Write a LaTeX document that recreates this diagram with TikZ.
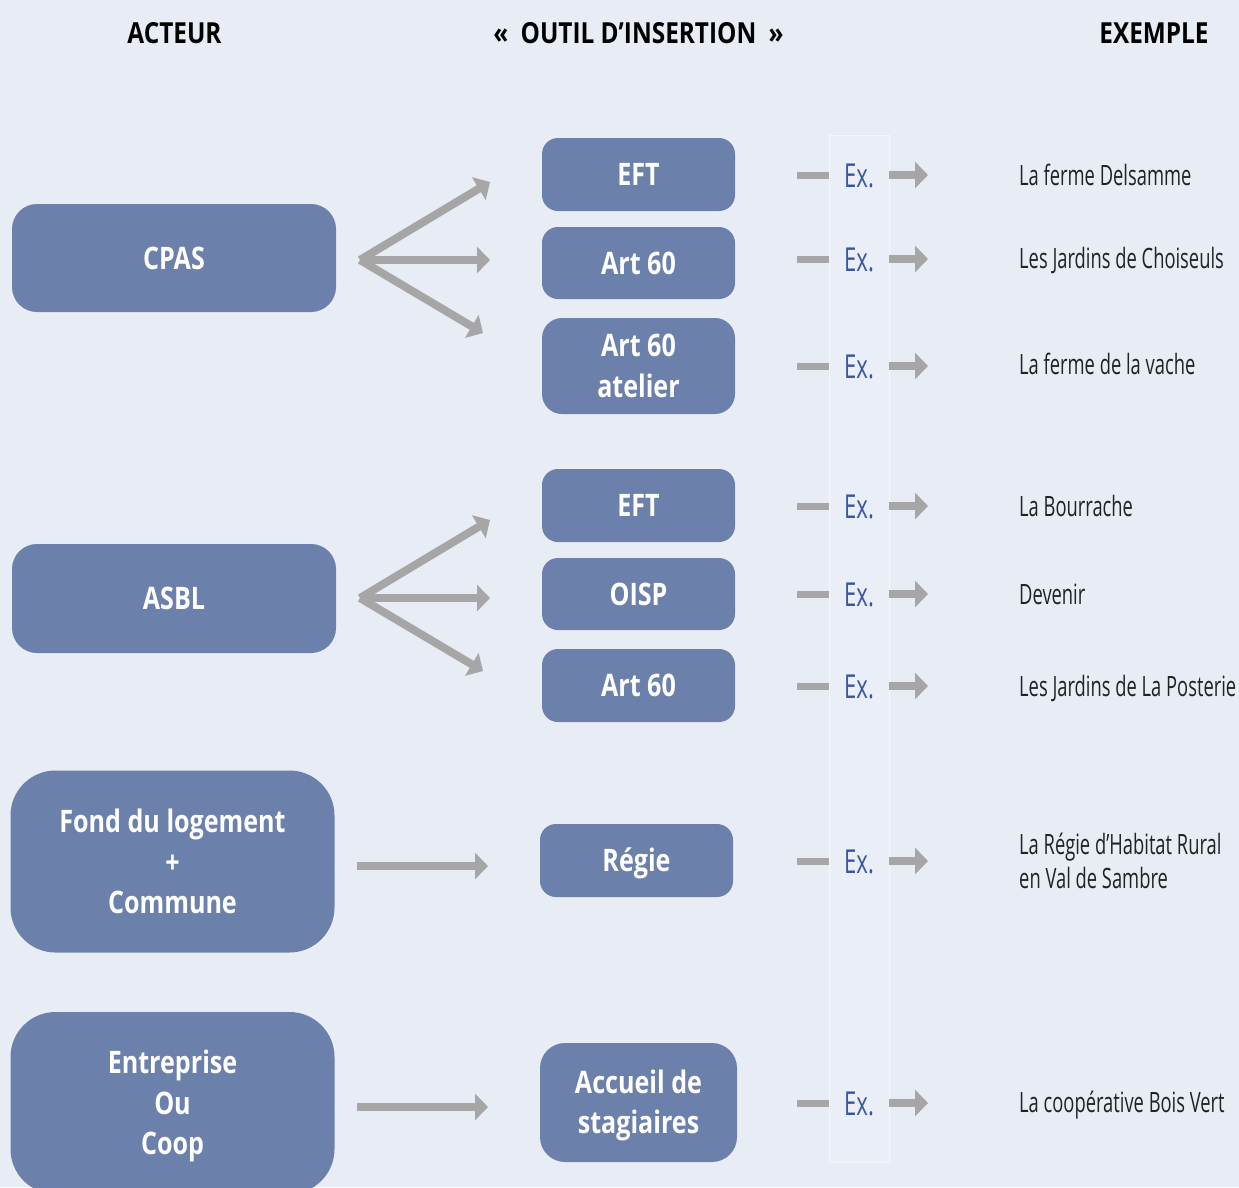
\documentclass[tikz,border=0pt]{standalone}
\usepackage{fontspec}
\setmainfont{Open Sans}[FakeStretch=0.81]
\newfontfamily\headfont{Open Sans}[FakeStretch=0.84]
\newfontfamily\exfont{Open Sans}[FakeStretch=0.67]
\newfontfamily\examplefont{Open Sans}[FakeStretch=0.655]
\usetikzlibrary{arrows.meta}
\definecolor{bg}{HTML}{E8ECF5}
\definecolor{boxc}{HTML}{6B80AB}
\definecolor{arr}{HTML}{A6A6A6}
\definecolor{exblue}{HTML}{3A56A3}
\definecolor{txt}{HTML}{222222}
\definecolor{colfill}{HTML}{EAEEF6}
\definecolor{colline}{HTML}{F4F6FB}
\newcommand\tstrut{\rule{0pt}{29.5pt}}
\begin{document}
\begin{tikzpicture}[x=1pt,y=-1pt,
 boxbase/.style={fill=boxc, draw=none, text=white, font=\bfseries\fontsize{31}{40.5}\selectfont, inner sep=0pt},
 sbox/.style={boxbase, text height=22pt, text depth=0pt},
 mbox/.style={boxbase, align=center},
 header/.style={font=\headfont\bfseries\fontsize{29}{34}\selectfont, text=black, anchor=base, inner sep=0pt},
 exlabel/.style={font=\exfont\fontsize{33}{36}\selectfont, text=exblue, anchor=base, inner sep=0pt},
 example/.style={font=\examplefont\fontsize{28}{34}\selectfont, text=txt, anchor=base west, inner sep=0pt},
 fan/.style={draw=arr, line width=8pt, -{Triangle[length=13pt,width=26pt]}},
 dashline/.style={draw=arr, line width=7pt},
 colbox/.style={fill=colfill, draw=colline, line width=1pt, inner sep=0pt}
 ]
\useasboundingbox (0,0) rectangle (1239,1187);
\fill[bg] (0,0) rectangle (1239,1187);

% headers
\node[header] (h1) at (174.5,43.5) {ACTEUR};
\node[header] (h2) at (638.5,43.5) {«\hspace{6pt} OUTIL D’INSERTION \hspace{6pt}»};
\node[header] (h3) at (1154,43.5) {EXEMPLE};

% column of Ex.
\node[colbox, minimum width=60pt, minimum height=1027pt] (col) at (859,648.5) {};

% actors
\node[sbox, minimum width=324pt, minimum height=108pt, rounded corners=25pt] (cpas) at (174,258) {CPAS};
\node[sbox, minimum width=324pt, minimum height=109pt, rounded corners=25pt] (asbl) at (174,598.5) {ASBL};
\node[mbox, minimum width=324pt, minimum height=182pt, rounded corners=45pt] (fond) at (172.5,861.5) {Fond du logement\\+\\Commune};
\node[mbox, minimum width=324pt, minimum height=182pt, rounded corners=45pt] (entr) at (172.5,1103) {\tstrut Entreprise\\Ou\\Coop};

% tools
\node[sbox, minimum width=193pt, minimum height=73pt, rounded corners=16pt] (eft1) at (638.5,174.5) {EFT};
\node[sbox, minimum width=193pt, minimum height=72pt, rounded corners=16pt] (art1) at (638.5,263) {Art 60};
\node[mbox, minimum width=193pt, minimum height=96pt, rounded corners=20pt] (atel) at (638.5,366) {Art 60\\atelier};
\node[sbox, minimum width=193pt, minimum height=73pt, rounded corners=16pt] (eft2) at (638.5,505.5) {EFT};
\node[sbox, minimum width=193pt, minimum height=72pt, rounded corners=16pt] (oisp) at (638.5,594) {OISP};
\node[sbox, minimum width=193pt, minimum height=73pt, rounded corners=16pt] (art2) at (638.5,685.5) {Art 60};
\node[sbox, minimum width=193pt, minimum height=73pt, rounded corners=16pt] (regie) at (636.5,860.5) {Régie};
\node[mbox, minimum width=197pt, minimum height=119pt, rounded corners=25pt] (accu) at (638.5,1102.5) {\tstrut Accueil de\\stagiaires};

% fan arrows
\coordinate (fa) at (360,260);
\coordinate (fa1) at (490,182);
\coordinate (fa2) at (490,260);
\coordinate (fa3) at (483,333);
\draw[fan] (fa) -- (fa1);
\draw[fan] (fa) -- (fa2);
\draw[fan] (fa) -- (fa3);
\coordinate (fb) at (360,598);
\coordinate (fb1) at (490,520);
\coordinate (fb2) at (490,598);
\coordinate (fb3) at (483,671);
\draw[fan] (fb) -- (fb1);
\draw[fan] (fb) -- (fb2);
\draw[fan] (fb) -- (fb3);
\coordinate (fc) at (357,866);
\coordinate (fc1) at (488,866);
\draw[fan] (fc) -- (fc1);
\coordinate (fd) at (357,1107);
\coordinate (fd1) at (488,1107);
\draw[fan] (fd) -- (fd1);

% Ex. rows
\foreach \y [count=\i] in {175,259,366,506,594,686,861,1103} {
  \coordinate (dA\i) at (797,\y);
  \coordinate (dB\i) at (829,\y);
  \draw[dashline] (dA\i) -- (dB\i);
  \node[exlabel] (ex\i) at (859,\y+12) {Ex.};
  \coordinate (aA\i) at (889,\y);
  \coordinate (aB\i) at (928,\y);
  \draw[fan] (aA\i) -- (aB\i);
}

% examples
\node[example] (e1) at (1019,185) {La ferme Delsamme};
\node[example] (e2) at (1019,268) {Les Jardins de Choiseuls};
\node[example] (e3) at (1019,374) {La ferme de la vache};
\node[example] (e4) at (1019,516) {La Bourrache};
\node[example] (e5) at (1019,604) {Devenir};
\node[example] (e6) at (1019,696) {Les Jardins de La Posterie};
\node[example] (e7) at (1019,854) {La Régie d’Habitat Rural};
\node[example] (e7b) at (1019,888) {en Val de Sambre};
\node[example] (e8) at (1019,1112) {La coopérative Bois Vert};
\end{tikzpicture}
\end{document}
